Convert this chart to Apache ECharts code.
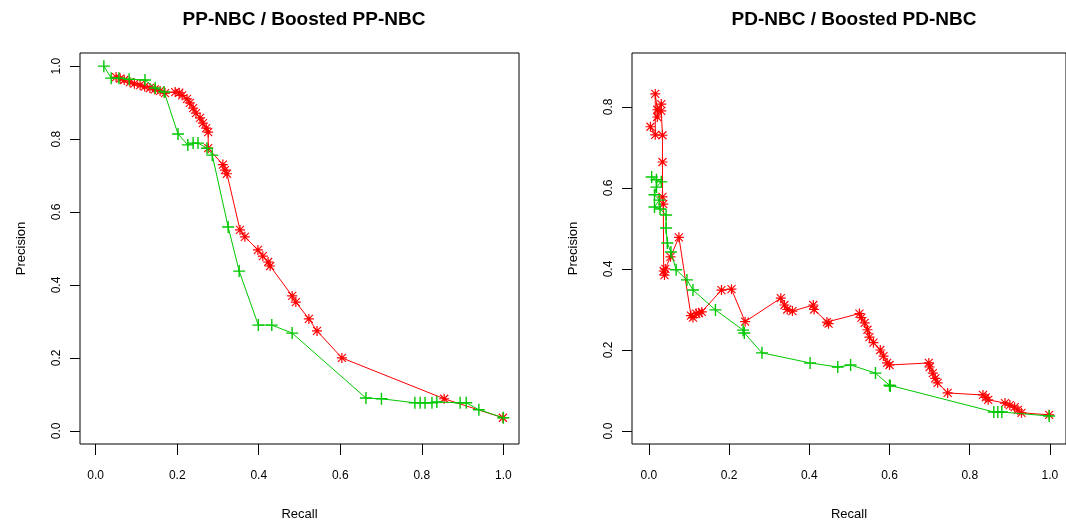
<!DOCTYPE html>
<html>
<head>
<meta charset="utf-8">
<script src="https://cdn.jsdelivr.net/npm/echarts@6/dist/echarts.min.js"></script>
<style>
  html, body { margin: 0; padding: 0; background: #fff; }
  #chart { width: 1066px; height: 527px; }
</style>
</head>
<body>
<div id="chart"></div>
<script>
// tick values on every axis
var ticks = [0, 0.2, 0.4, 0.6, 0.8, 1.0];

// PP-NBC (red) - left plot
var ppRecall = [0.05, 0.06, 0.07, 0.084, 0.095, 0.109, 0.12, 0.133, 0.145, 0.158, 0.17,
  0.195, 0.205, 0.212, 0.224, 0.231, 0.239, 0.246, 0.256, 0.263, 0.271, 0.276,
  0.276, 0.312, 0.317, 0.322, 0.354, 0.366, 0.398, 0.41, 0.423, 0.428,
  0.482, 0.491, 0.523, 0.543, 0.604, 0.855, 0.999];
var ppPrecision = [0.97, 0.966, 0.962, 0.956, 0.952, 0.948, 0.944, 0.94, 0.936, 0.932, 0.926,
  0.929, 0.927, 0.92, 0.91, 0.899, 0.885, 0.871, 0.858, 0.844, 0.83, 0.819,
  0.775, 0.73, 0.715, 0.705, 0.551, 0.532, 0.496, 0.479, 0.463, 0.452,
  0.37, 0.353, 0.307, 0.274, 0.2, 0.088, 0.036];

// Boosted PP-NBC (green) - left plot
var bppRecall = [0.02, 0.038, 0.057, 0.082, 0.121, 0.146, 0.168, 0.202, 0.226, 0.239, 0.251,
  0.273, 0.286, 0.325, 0.352, 0.399, 0.432, 0.482, 0.663, 0.701, 0.783, 0.796,
  0.808, 0.825, 0.837, 0.894, 0.909, 0.94, 1.0];
var bppPrecision = [1.0, 0.967, 0.967, 0.964, 0.962, 0.94, 0.929, 0.814, 0.784, 0.789, 0.789,
  0.775, 0.756, 0.559, 0.438, 0.29, 0.29, 0.268, 0.09, 0.088, 0.077, 0.077,
  0.077, 0.077, 0.079, 0.077, 0.077, 0.058, 0.036];

// PD-NBC (red) - right plot
var pdRecall = [0.004, 0.016, 0.016, 0.021, 0.021, 0.031, 0.031, 0.034, 0.034, 0.034, 0.036,
  0.037, 0.039, 0.041, 0.054, 0.075, 0.105, 0.11, 0.118, 0.125, 0.132, 0.181, 0.206,
  0.24, 0.329, 0.338, 0.345, 0.358, 0.41, 0.412, 0.444, 0.448, 0.525, 0.53, 0.538,
  0.545, 0.55, 0.56, 0.577, 0.585, 0.594, 0.6, 0.698, 0.7, 0.708, 0.714, 0.72,
  0.745, 0.833, 0.84, 0.846, 0.888, 0.9, 0.912, 0.92, 0.929, 0.998];
var pdPrecision = [0.751, 0.731, 0.832, 0.793, 0.775, 0.807, 0.79, 0.73, 0.664, 0.578, 0.56,
  0.395, 0.385, 0.4, 0.43, 0.478, 0.285, 0.28, 0.29, 0.291, 0.294, 0.348, 0.35,
  0.27, 0.328, 0.311, 0.3, 0.296, 0.311, 0.3, 0.269, 0.265, 0.29, 0.28, 0.267,
  0.25, 0.232, 0.218, 0.2, 0.185, 0.168, 0.163, 0.168, 0.158, 0.143, 0.13, 0.119,
  0.094, 0.089, 0.083, 0.077, 0.069, 0.064, 0.059, 0.052, 0.045, 0.04];

// Boosted PD-NBC (green) - right plot
var bpdRecall = [0.007, 0.019, 0.031, 0.019, 0.014, 0.026, 0.014, 0.028, 0.043, 0.043, 0.046,
  0.055, 0.068, 0.095, 0.11, 0.166, 0.235, 0.238, 0.282, 0.402, 0.471, 0.503,
  0.565, 0.6, 0.602, 0.86, 0.87, 0.88, 0.998];
var bpdPrecision = [0.627, 0.62, 0.615, 0.602, 0.583, 0.57, 0.553, 0.548, 0.533, 0.501, 0.464,
  0.442, 0.398, 0.373, 0.348, 0.299, 0.249, 0.242, 0.193, 0.168, 0.158, 0.163,
  0.143, 0.113, 0.111, 0.047, 0.047, 0.047, 0.037];

var RED = '#ff0000';
var GREEN = '#00c800';
var FONT = 'Liberation Sans, Arial, sans-serif';

// R-like plot symbols
var plusSym = 'path://M0,5.3 L12,5.3 L12,6.7 L0,6.7 Z M5.3,0 L6.7,0 L6.7,12 L5.3,12 Z';
var starSym = 'path://M0,4.4 L10,4.4 L10,5.6 L0,5.6 Z M4.4,0 L5.6,0 L5.6,10 L4.4,10 Z ' +
  'M0.6,1.4 L1.4,0.6 L9.4,8.6 L8.6,9.4 Z M8.6,0.6 L9.4,1.4 L1.4,9.4 L0.6,8.6 Z';

function zip(xs, ys) {
  return xs.map(function (x, i) { return [x, ys[i]]; });
}

function fmt(v) { return v.toFixed(1); }

function xAxis(idx, min, max) {
  return {
    type: 'value', gridIndex: idx, min: min, max: max,
    name: 'Recall', nameLocation: 'middle', nameGap: 64,
    nameTextStyle: { fontFamily: FONT, fontSize: 13, color: '#000' },
    axisLine: { show: false, onZero: false },
    axisTick: { show: true, inside: false, length: 11, customValues: ticks,
      lineStyle: { color: '#000', width: 1 } },
    axisLabel: { customValues: ticks, formatter: fmt, margin: 26,
      fontFamily: FONT, fontSize: 12, color: '#000' },
    splitLine: { show: false }
  };
}

function yAxis(idx, min, max, yticks) {
  return {
    type: 'value', gridIndex: idx, min: min, max: max,
    name: 'Precision', nameLocation: 'middle', nameGap: 52, nameRotate: 90,
    nameTextStyle: { fontFamily: FONT, fontSize: 13, color: '#000' },
    axisLine: { show: false, onZero: false },
    axisTick: { show: true, inside: false, length: 10, customValues: yticks,
      lineStyle: { color: '#000', width: 1 } },
    axisLabel: { customValues: yticks, formatter: fmt, margin: 17, rotate: 90,
      fontFamily: FONT, fontSize: 12, color: '#000' },
    splitLine: { show: false }
  };
}

function line(name, idx, data, color, sym, size) {
  return {
    name: name, type: 'line', xAxisIndex: idx, yAxisIndex: idx,
    data: data, symbol: sym, symbolSize: size, showAllSymbol: true,
    lineStyle: { color: color, width: 1 },
    itemStyle: { color: color, borderWidth: 0 },
    animation: false, z: name.indexOf('Boosted') === 0 ? 3 : 2
  };
}

var chart = echarts.init(document.getElementById('chart'), null, { renderer: 'canvas' });

var option = {
  backgroundColor: '#ffffff',
  animation: false,
  title: [
    { text: 'PP-NBC / Boosted PP-NBC', left: 299, top: 5, textAlign: 'center',
      textStyle: { fontFamily: FONT, fontSize: 19, fontWeight: 'bold', color: '#000' } },
    { text: 'PD-NBC / Boosted PD-NBC', left: 849, top: 5, textAlign: 'center',
      textStyle: { fontFamily: FONT, fontSize: 19, fontWeight: 'bold', color: '#000' } }
  ],
  grid: [
    { left: 80, top: 53, width: 439, height: 391, show: true,
      borderColor: '#000', borderWidth: 1, backgroundColor: 'transparent' },
    { left: 632, top: 53, width: 440, height: 391, show: true,
      borderColor: '#000', borderWidth: 1, backgroundColor: 'transparent' }
  ],
  xAxis: [xAxis(0, -0.0385, 1.0385), xAxis(1, -0.042, 1.040)],
  yAxis: [yAxis(0, -0.036, 1.036, ticks), yAxis(1, -0.032, 0.933, [0, 0.2, 0.4, 0.6, 0.8])],
  series: [
    line('PP-NBC', 0, zip(ppRecall, ppPrecision), RED, starSym, 10),
    line('Boosted PP-NBC', 0, zip(bppRecall, bppPrecision), GREEN, plusSym, 12),
    line('PD-NBC', 1, zip(pdRecall, pdPrecision), RED, starSym, 10),
    line('Boosted PD-NBC', 1, zip(bpdRecall, bpdPrecision), GREEN, plusSym, 12)
  ]
};

chart.setOption(option);
</script>
</body>
</html>
